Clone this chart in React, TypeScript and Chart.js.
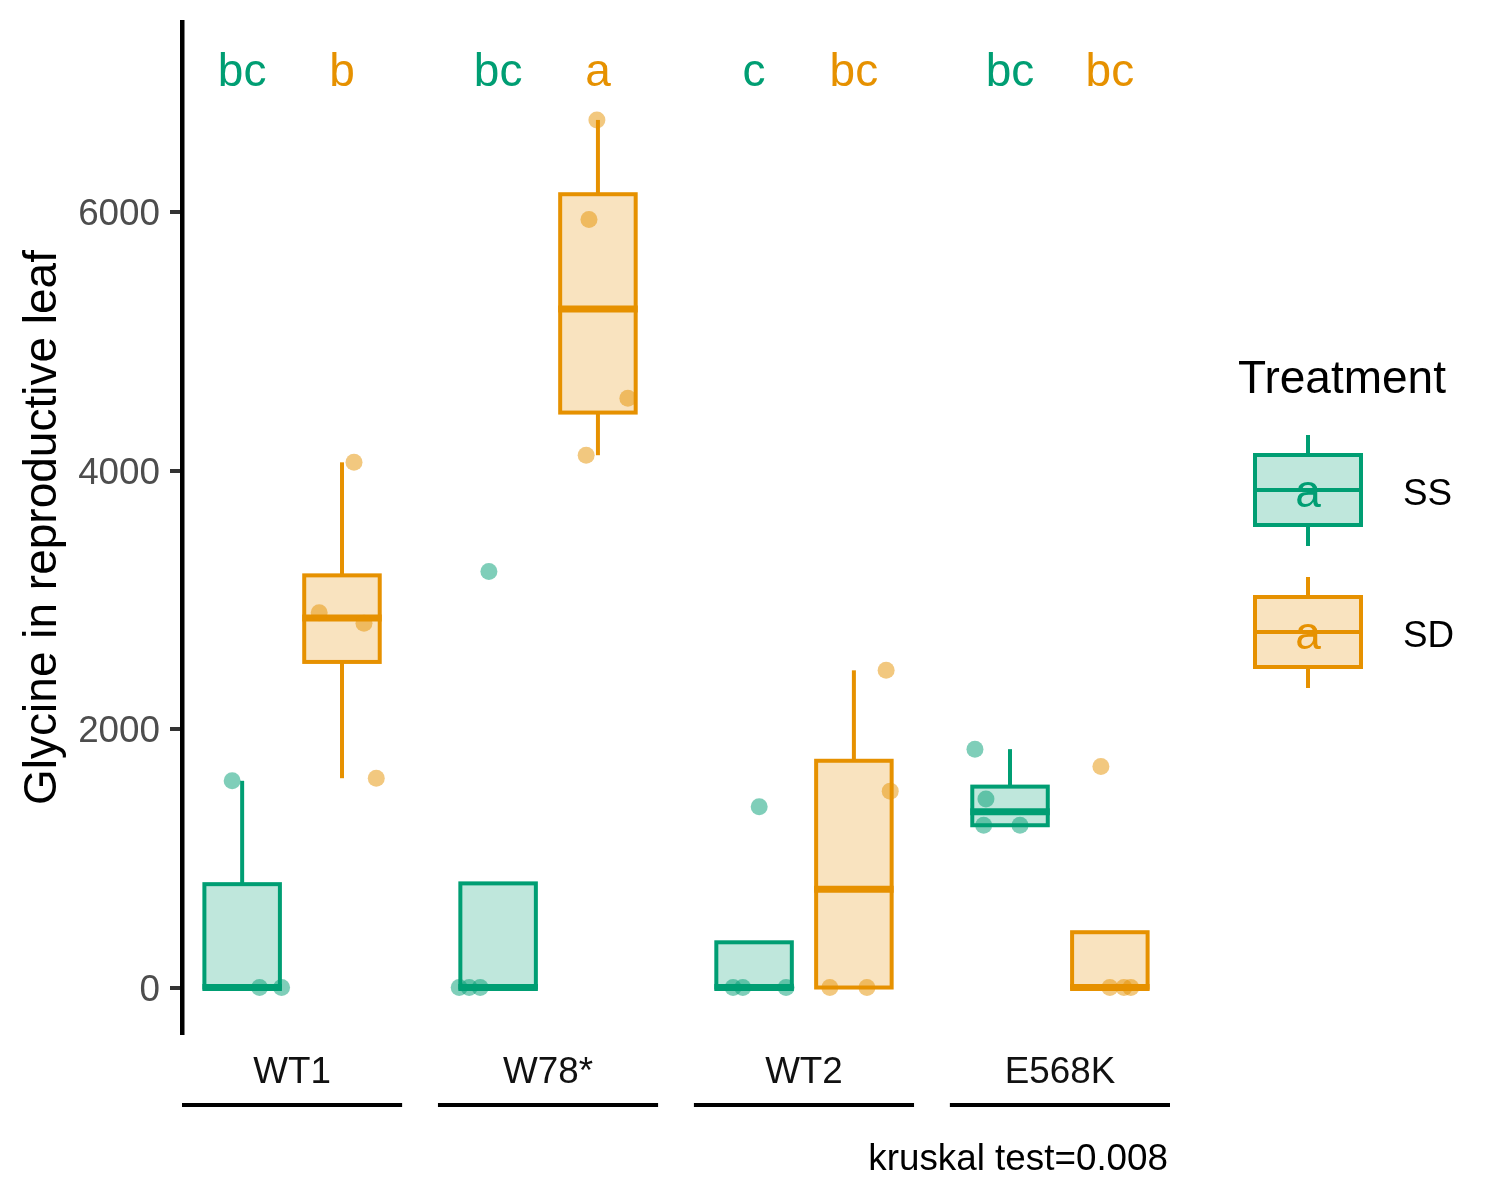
import React, { useEffect, useRef } from "react";
import { Chart, registerables } from "chart.js";

Chart.register(...registerables);

const FONT = "'Liberation Sans', Arial, Helvetica, sans-serif";

// ---- data ----
const groups = ["WT1", "W78*", "WT2", "E568K"];
const treatments = ["SS", "SD"];

// box statistics per group: [lower whisker, Q1, median, Q3, upper whisker]
const boxSS = [
  [0, 0, 0, 800, 1600],
  [0, 0, 0, 806, 0],
  [0, 0, 0, 350, 0],
  [1256, 1256, 1360, 1555, 1845],
];
const boxSD = [
  [1620, 2520, 2860, 3190, 4065],
  [4120, 4450, 5252, 6140, 6715],
  [0, 0, 760, 1755, 2455],
  [0, 0, 0, 428, 0],
];

// observed values (jittered points)
const pointsSS = [
  [1600, 0, 0],
  [3220, 0, 0, 0],
  [1400, 0, 0, 0],
  [1845, 1460, 1256, 1256],
];
const pointsSD = [
  [4065, 2900, 2820, 1620],
  [6715, 5945, 4560, 4120],
  [2455, 1520, 0, 0],
  [1710, 0, 0, 0],
];
// horizontal jitter of each point (category units)
const jitterSS = [
  [-0.039, 0.068, 0.154],
  [-0.036, -0.152, -0.113, -0.07],
  [0.02, -0.082, -0.044, 0.125],
  [-0.137, -0.094, -0.103, 0.039],
];
const jitterSD = [
  [0.047, -0.089, 0.086, 0.134],
  [-0.004, -0.035, 0.117, -0.046],
  [0.126, 0.142, -0.094, 0.051],
  [-0.035, 0, 0.055, 0.082],
];

const lettersSS = ["bc", "bc", "c", "bc"];
const lettersSD = ["b", "a", "bc", "bc"];
const letterLevel = 6980;
const yTicks = [0, 2000, 4000, 6000];
const yTitle = "Glycine in reproductive leaf";
const legendTitle = "Treatment";
const caption = "kruskal test=0.008";

// ---- styles ----
const GREEN = "#009E73";
const ORANGE = "#E69100";
const GREEN_FILL = "rgba(0,158,115,0.25)";
const ORANGE_FILL = "rgba(230,145,0,0.25)";
const GREEN_PT = "rgba(0,158,115,0.5)";
const ORANGE_PT = "rgba(230,145,0,0.5)";
const DODGE = 0.195;
const BOX_W = 0.295;
const LINE_W = 4;
const MEDIAN_W = 7;

const series = [
  { box: boxSS, stroke: GREEN, fill: GREEN_FILL, off: -DODGE, letters: lettersSS },
  { box: boxSD, stroke: ORANGE, fill: ORANGE_FILL, off: DODGE, letters: lettersSD },
];

const boxPlugin = {
  id: "boxes",
  beforeDatasetsDraw(chart: any) {
    const { ctx, scales } = chart;
    const x = scales.x;
    const y = scales.y;
    ctx.save();
    series.forEach((s) => {
      s.box.forEach((b, g) => {
        const [lo, q1, med, q3, hi] = b;
        const cx = x.getPixelForValue(g + s.off);
        const xl = x.getPixelForValue(g + s.off - BOX_W / 2);
        const xr = x.getPixelForValue(g + s.off + BOX_W / 2);
        const yq1 = y.getPixelForValue(q1);
        const yq3 = y.getPixelForValue(q3);
        ctx.strokeStyle = s.stroke;
        ctx.lineWidth = LINE_W;
        ctx.lineCap = "butt";
        if (hi > q3) {
          ctx.beginPath();
          ctx.moveTo(cx, yq3);
          ctx.lineTo(cx, y.getPixelForValue(hi));
          ctx.stroke();
        }
        if (lo < q1) {
          ctx.beginPath();
          ctx.moveTo(cx, yq1);
          ctx.lineTo(cx, y.getPixelForValue(lo));
          ctx.stroke();
        }
        ctx.fillStyle = s.fill;
        ctx.fillRect(xl, yq3, xr - xl, yq1 - yq3);
        ctx.strokeRect(xl, yq3, xr - xl, yq1 - yq3);
        ctx.lineWidth = MEDIAN_W;
        const ym = y.getPixelForValue(med);
        ctx.beginPath();
        ctx.moveTo(xl - LINE_W / 2, ym);
        ctx.lineTo(xr + LINE_W / 2, ym);
        ctx.stroke();
      });
    });
    ctx.restore();
  },
  afterDraw(chart: any) {
    const { ctx, scales, chartArea } = chart;
    const x = scales.x;
    const y = scales.y;
    ctx.save();
    // significance letters
    ctx.font = `46px ${FONT}`;
    ctx.textAlign = "center";
    ctx.textBaseline = "alphabetic";
    series.forEach((s) => {
      ctx.fillStyle = s.stroke;
      s.letters.forEach((t, g) => {
        ctx.fillText(t, x.getPixelForValue(g + s.off), y.getPixelForValue(letterLevel));
      });
    });
    // group underlines
    ctx.strokeStyle = "#000";
    ctx.lineWidth = 4;
    groups.forEach((_, g) => {
      ctx.beginPath();
      ctx.moveTo(x.getPixelForValue(g - 0.43), 1105);
      ctx.lineTo(x.getPixelForValue(g + 0.43), 1105);
      ctx.stroke();
    });
    // caption
    ctx.fillStyle = "#000";
    ctx.font = `36.8px ${FONT}`;
    ctx.textAlign = "right";
    ctx.fillText(caption, chartArea.right - 2, 1170);
    // legend
    ctx.textAlign = "left";
    ctx.font = `46px ${FONT}`;
    ctx.fillText(legendTitle, 1238, 393);
    treatments.forEach((t, i) => {
      const s = series[i];
      const cy = 490 + i * 142;
      const kl = 1255, kr = 1361, kc = 1308;
      ctx.strokeStyle = s.stroke;
      ctx.lineWidth = LINE_W;
      ctx.beginPath();
      ctx.moveTo(kc, cy - 55);
      ctx.lineTo(kc, cy - 35);
      ctx.moveTo(kc, cy + 35);
      ctx.lineTo(kc, cy + 56);
      ctx.stroke();
      ctx.fillStyle = s.fill;
      ctx.fillRect(kl, cy - 35, kr - kl, 70);
      ctx.strokeRect(kl, cy - 35, kr - kl, 70);
      ctx.beginPath();
      ctx.moveTo(kl, cy);
      ctx.lineTo(kr, cy);
      ctx.stroke();
      ctx.fillStyle = s.stroke;
      ctx.font = `46px ${FONT}`;
      ctx.textAlign = "center";
      ctx.fillText("a", kc, cy + 17);
      ctx.fillStyle = "#000";
      ctx.font = `36.8px ${FONT}`;
      ctx.textAlign = "left";
      ctx.fillText(t, 1403, cy + 15);
    });
    ctx.restore();
  },
};

export default function App() {
  const ref = useRef<HTMLCanvasElement | null>(null);
  useEffect(() => {
    if (!ref.current) return;
    Chart.defaults.font.family = FONT;
    const chart = new Chart(ref.current, {
      type: "scatter",
      data: {
        datasets: [
          {
            label: "SS",
            data: pointsSS.flatMap((vals, g) =>
              vals.map((v, i) => ({ x: g - DODGE + jitterSS[g][i], y: v }))
            ),
            backgroundColor: GREEN_PT,
            borderWidth: 0,
            pointRadius: 8.5,
          },
          {
            label: "SD",
            data: pointsSD.flatMap((vals, g) =>
              vals.map((v, i) => ({ x: g + DODGE + jitterSD[g][i], y: v }))
            ),
            backgroundColor: ORANGE_PT,
            borderWidth: 0,
            pointRadius: 8.5,
          },
        ],
      },
      options: {
        animation: false,
        responsive: false,
        devicePixelRatio: 1,
        layout: { padding: { left: 0, top: 22, right: 330, bottom: 0 } },
        plugins: { legend: { display: false }, tooltip: { enabled: false } },
        scales: {
          x: {
            type: "linear",
            position: "bottom",
            min: -0.43,
            max: 3.43,
            afterBuildTicks: (s: any) => {
              s.ticks = groups.map((_, i) => ({ value: i }));
            },
            ticks: {
              callback: (v: any) => groups[Math.round(Number(v))],
              font: { size: 36.8 },
              color: "#111",
              padding: 18,
              maxRotation: 0,
              autoSkip: false,
            },
            grid: { display: false, drawTicks: false },
            border: { display: false },
            afterFit: (s: any) => {
              s.height = 167;
              s.paddingLeft = 0;
              s.paddingRight = 0;
            },
          },
          y: {
            type: "linear",
            min: -352,
            max: 7473,
            afterBuildTicks: (s: any) => {
              s.ticks = yTicks.map((v) => ({ value: v }));
            },
            ticks: {
              callback: (v: any) => String(v),
              font: { size: 36.8, lineHeight: 1.1 },
              color: "#4D4D4D",
              padding: 10,
              labelOffset: 3,
            },
            grid: {
              drawOnChartArea: false,
              drawTicks: true,
              tickLength: 12,
              tickWidth: 4,
              tickColor: "#333333",
              lineWidth: 4,
              color: "#333333",
            },
            border: { display: true, color: "#000", width: 4.5 },
            title: {
              display: true,
              text: yTitle,
              font: { size: 46 },
              color: "#000",
              padding: { top: 16, bottom: 0 },
            },
            afterFit: (s: any) => {
              s.width = 182;
              s.paddingTop = 0;
              s.paddingBottom = 0;
            },
          },
        },
      },
      plugins: [boxPlugin],
    } as any);
    return () => chart.destroy();
  }, []);
  return (
    <div style={{ position: "absolute", left: 0, top: 0, width: 1500, height: 1200, background: "#fff" }}>
      <canvas ref={ref} width={1500} height={1200} style={{ width: 1500, height: 1200, display: "block" }} />
    </div>
  );
}
